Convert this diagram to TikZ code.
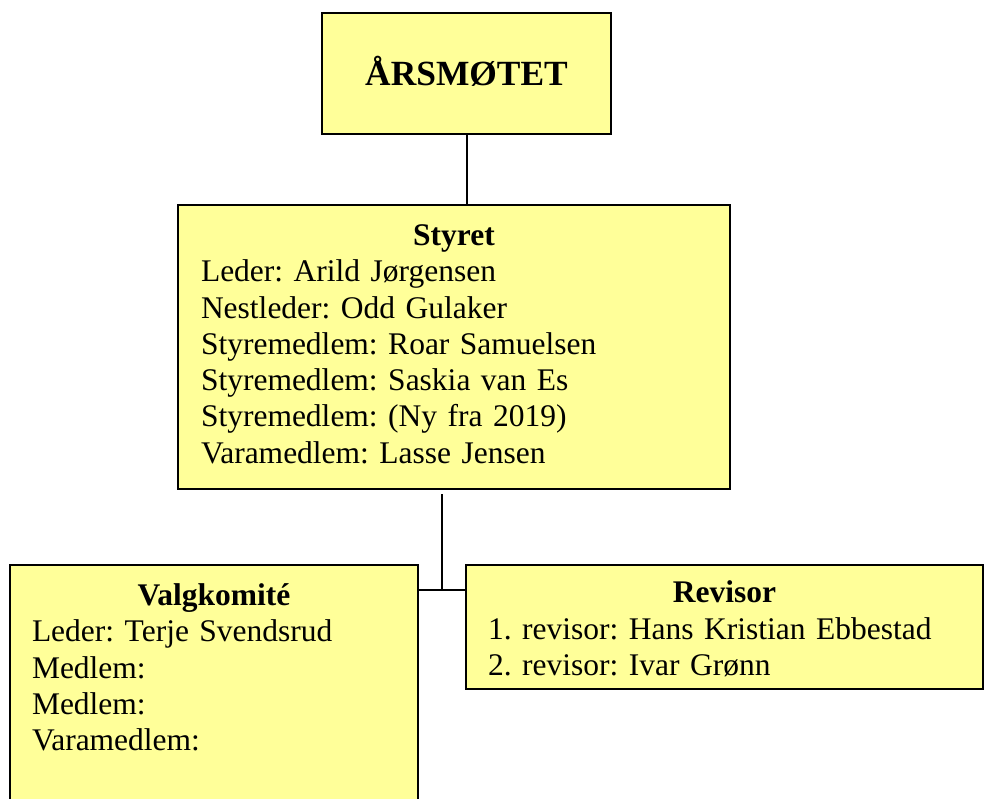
\documentclass[tikz,border=0pt]{standalone}
\usepackage{fontspec}
\setmainfont{Liberation Serif}
\frenchspacing
\usetikzlibrary{positioning,calc}
\definecolor{boxyellow}{HTML}{FFFF99}
\tikzset{
    %Define style for boxes
    orgbox/.style={
           rectangle,
           draw=black, line width=2pt,
           fill=boxyellow,
           outer sep=0pt,
           inner xsep=22pt,
           inner ysep=15pt,
           font=\fontsize{31.5}{36.3}\selectfont,
           align=left},
    topbox/.style={
           orgbox,
           minimum width=289pt,
           minimum height=121pt,
           align=center,
           text depth=6pt,
           font=\fontsize{35.4}{40.7}\selectfont\bfseries},
    % Define line style
    link/.style={
           draw=black,
           line width=2pt}
}

\begin{document}
\begin{tikzpicture}[x=1pt,y=1pt]
\useasboundingbox (0,0) rectangle (984,798);
 %nodes
\node[topbox](aars) at (466.5,724.5){ÅRSMØTET};
\node[orgbox, below=71pt of aars, xshift=-12.5pt, text width=506pt, inner xsep=23pt](styret){%
  \makebox[\linewidth]{\strut\textbf{Styret}}\\
  Leder: Arild Jørgensen\\
  Nestleder: Odd Gulaker\\
  Styremedlem: Roar Samuelsen\\
  Styremedlem: Saskia van Es\\
  Styremedlem: (Ny fra 2019)\\
  Varamedlem: Lasse Jensen\strut};
\node[orgbox, below=76pt of styret.south west, anchor=north west, xshift=-168pt, text width=364pt](valg){%
  \makebox[\linewidth]{\strut\textbf{Valgkomité}}\\
  Leder: Terje Svendsrud\\
  Medlem:\\
  Medlem:\\
  Varamedlem:\\
  \strut};
\node[orgbox, below=76pt of styret.south, anchor=north west, xshift=12pt, text width=473pt, inner ysep=8pt, minimum height=124pt](revisor){%
  \makebox[\linewidth]{\strut\textbf{Revisor}}\\
  1. revisor: Hans Kristian Ebbestad\\
  2. revisor: Ivar Grønn};
\coordinate (junction) at ($(valg.north east)!.5!(revisor.north west)+(0,-25)$);
 %lines
\draw[link] (aars) -- (aars |- styret.north);
\draw[link] ([yshift=-5pt]styret.south -| junction) -- (junction);
\draw[link] (junction -| valg.east) -- (junction -| revisor.west);
\end{tikzpicture}
\end{document}
